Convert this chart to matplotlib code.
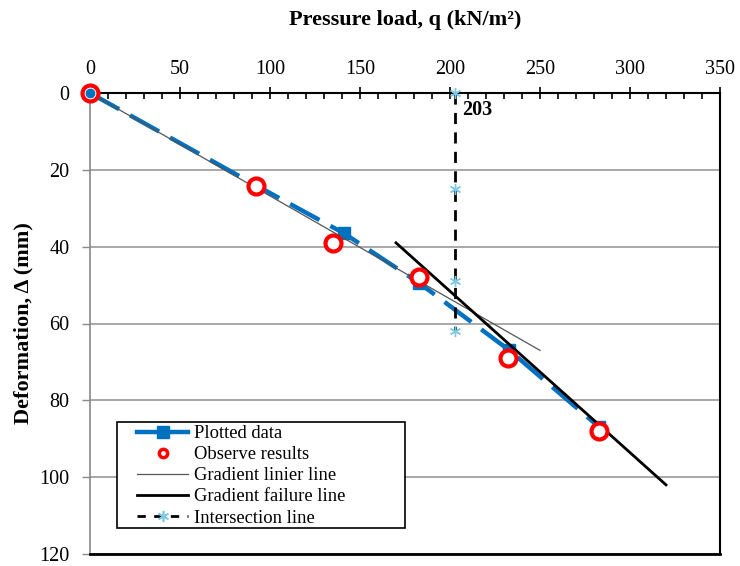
import matplotlib
matplotlib.use("Agg")
import matplotlib.pyplot as plt
from matplotlib.ticker import MultipleLocator
from matplotlib.lines import Line2D
from matplotlib.patches import Rectangle

plt.rcParams['font.family'] = ['Liberation Serif', 'DejaVu Serif']

# Data
plotted_q = [0, 92, 141, 183, 233, 283]
plotted_d = [0, 24, 36.5, 49.5, 67, 87]
observed_q = [0, 92, 135, 183, 232, 283]
observed_d = [0, 24.2, 39, 48, 69, 88]
linear_q = [0, 250]
linear_d = [0, 67]
failure_q = [170, 320]
failure_d = [39, 102]
inter_q = [203, 203, 203, 203]
inter_d = [0, 25, 49, 62]
inter_label = "203"

x_ticks = [0, 50, 100, 150, 200, 250, 300, 350]
y_ticks = [0, 20, 40, 60, 80, 100, 120]

W, H = 740, 566
fig = plt.figure(figsize=(W/100, H/100), dpi=100)
ax = fig.add_axes([90/W, 1-554/H, (720-90)/W, (554-93)/H])

blue = '#0070C0'
red = '#FF0000'
cyan = '#7EC8E3'
star = (6, 2, 0)

ax.plot(plotted_q, plotted_d, color=blue, lw=3.2, dashes=(7.5, 2.8), marker='s',
        ms=9, mec=blue, mfc=blue, zorder=3, clip_on=False)
ax.plot(linear_q, linear_d, color='#555555', lw=0.9, zorder=4)
ax.plot(failure_q, failure_d, color='black', lw=2, zorder=4)
ax.plot(inter_q, inter_d, color='black', lw=2, dashes=(4, 3), marker=star,
        ms=8, mec=cyan, mew=1, zorder=4, clip_on=False)
ax.plot(observed_q, observed_d, ls='none', marker='o', ms=11.5, mfc='white',
        mec=red, mew=3, zorder=5, clip_on=False)
ax.plot(observed_q[:1], observed_d[:1], ls='none', marker='o', ms=6, mfc=blue,
        mec=blue, zorder=6, clip_on=False)
ax.text(207, 4.3, inter_label, fontsize=14.5, fontweight='bold', ha='left', va='center')

ax.set_xlim(0, 350)
ax.set_ylim(120, 0)
ax.xaxis.tick_top()
ax.xaxis.set_label_position('top')
ax.set_xticks(x_ticks)
ax.set_yticks(y_ticks)
ax.xaxis.set_minor_locator(MultipleLocator(10))
ax.tick_params(axis='x', which='major', direction='inout', length=8.6, width=1.2,
               labelsize=14.5, pad=6, top=True, bottom=False)
ax.tick_params(axis='x', which='minor', direction='in', length=4, width=1.2,
               top=True, bottom=False)
ax.tick_params(axis='y', which='major', direction='out', length=5.8, width=1,
               color='#888888', labelsize=14.5, pad=9)

ax.grid(axis='y', color='#999999', lw=1.2)
ax.set_axisbelow(True)
for s in ['top', 'right', 'bottom']:
    ax.spines[s].set_color('black')
ax.spines['top'].set_linewidth(1.5)
ax.spines['right'].set_linewidth(1.5)
ax.spines['bottom'].set_linewidth(2)
ax.spines['left'].set_color('#888888')
ax.spines['left'].set_linewidth(1.2)

ax.set_xlabel('Pressure load, q (kN/m²)', fontsize=16, fontweight='bold', labelpad=25)
ax.set_ylabel('Deformation, Δ (mm)', fontsize=16, fontweight='bold', labelpad=4)

# legend
handles = [
    Line2D([], [], color=blue, lw=3.2, marker='s', ms=8, mec=blue, mfc=blue),
    Line2D([], [], ls='none', marker='o', ms=6, mfc='white', mec=red, mew=2.5),
    Line2D([], [], color='#555555', lw=0.9),
    Line2D([], [], color='black', lw=2),
    Line2D([], [], color='black', lw=2, dashes=(3, 3), marker=star, ms=8, mec=cyan, mew=1.2),
]
labels = ['Plotted data', 'Observe results', 'Gradient linier line',
          'Gradient failure line', 'Intersection line']
box = Rectangle((117/W, 1-528/H), (405-117)/W, (528-422)/H,
                transform=fig.transFigure, fill=True, fc='white',
                ec='black', lw=1.2, zorder=6, clip_on=False)
ax.add_patch(box)
leg = ax.legend(handles, labels, loc='upper left', bbox_to_anchor=(137/W, 1-425/H),
                bbox_transform=fig.transFigure, fontsize=13.4, frameon=False,
                borderpad=0, labelspacing=0.22, handlelength=2.75,
                handletextpad=0.3, borderaxespad=0)
leg.set_zorder(7)

fig.savefig('out.png', dpi=100)
